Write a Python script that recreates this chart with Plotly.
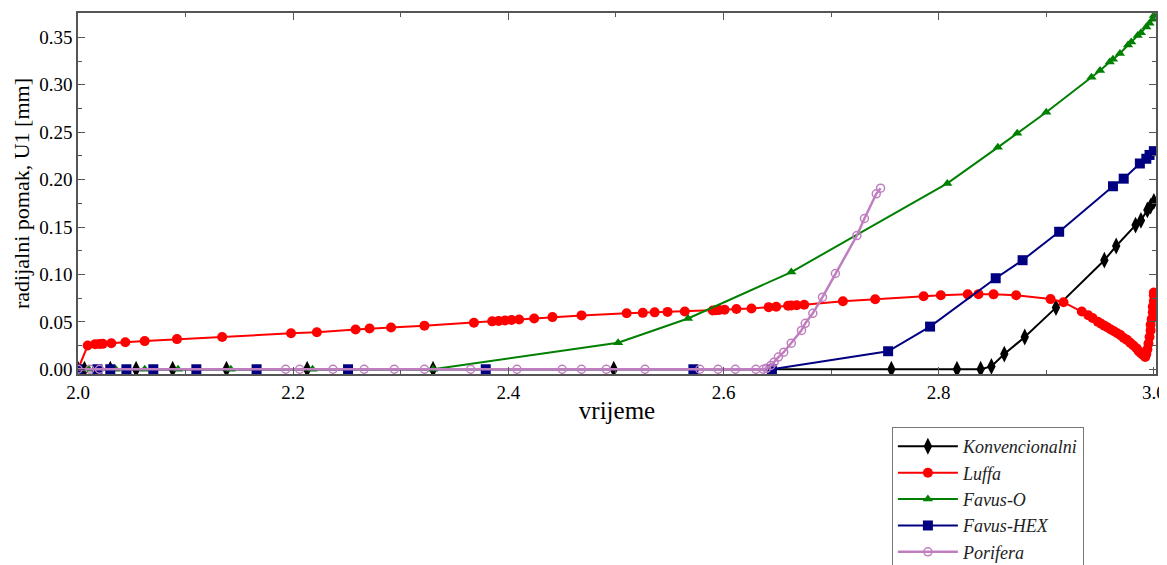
import plotly.graph_objects as go

# ---- data ----
konv_x = [2.0, 2.006, 2.030, 2.054, 2.088, 2.138, 2.213, 2.33, 2.498, 2.756, 2.817, 2.839,
          2.849, 2.861, 2.880, 2.909, 2.954, 2.965, 2.983, 2.988, 2.994, 2.997, 3.0]
konv_y = [0, 0, 0, 0, 0, 0, 0, 0, 0, 0, 0, 0,
          0.003, 0.016, 0.034, 0.065, 0.115, 0.130, 0.152, 0.157, 0.168, 0.172, 0.177]

luffa_x = [2.0, 2.009, 2.016, 2.020, 2.023, 2.031, 2.044, 2.062, 2.092, 2.134, 2.198, 2.222,
           2.258, 2.271, 2.291, 2.322, 2.368, 2.385, 2.391, 2.397, 2.403, 2.410, 2.424, 2.441,
           2.468, 2.510, 2.525, 2.536, 2.548, 2.564, 2.590, 2.593, 2.596, 2.601, 2.612, 2.626,
           2.642, 2.649, 2.660, 2.663, 2.668, 2.675, 2.711, 2.741, 2.786, 2.802, 2.827, 2.837,
           2.851, 2.872, 2.904, 2.916, 2.933, 2.939, 2.943, 2.948, 2.951, 2.954, 2.957, 2.960,
           2.963, 2.966, 2.969, 2.972, 2.975, 2.978, 2.981, 2.984, 2.986, 2.988, 2.990, 2.992,
           2.993, 2.994, 2.995, 2.996, 2.997, 2.997, 2.998, 2.999, 2.999, 3.0, 3.0, 3.0]
luffa_y = [0.0, 0.025, 0.0265, 0.0267, 0.0268, 0.0275, 0.0285, 0.0297, 0.0318, 0.034, 0.038, 0.039,
           0.042, 0.043, 0.044, 0.046, 0.049, 0.0505, 0.051, 0.0515, 0.052, 0.0525, 0.0535, 0.055,
           0.0568, 0.059, 0.0595, 0.060, 0.0605, 0.061, 0.062, 0.0623, 0.0625, 0.0627, 0.0635, 0.064,
           0.0655, 0.066, 0.067, 0.0672, 0.0675, 0.068, 0.0717, 0.0738, 0.077, 0.078, 0.079, 0.0792,
           0.079, 0.078, 0.074, 0.0707, 0.061, 0.057, 0.054, 0.050, 0.048, 0.046, 0.044, 0.042,
           0.040, 0.038, 0.036, 0.033, 0.031, 0.028, 0.025, 0.022, 0.019, 0.017, 0.015, 0.013,
           0.016, 0.021, 0.027, 0.034, 0.041, 0.047, 0.053, 0.060, 0.066, 0.072, 0.078, 0.081]

favo_x = [2.0, 2.010, 2.035, 2.062, 2.093, 2.142, 2.218, 2.330, 2.502, 2.567, 2.663, 2.808,
          2.855, 2.873, 2.900, 2.942, 2.950, 2.959, 2.962, 2.9685, 2.976, 2.979, 2.985, 2.988,
          2.993, 2.996, 2.999, 3.0]
favo_y = [0, 0, 0, 0, 0, 0, 0, 0, 0.028, 0.0535, 0.1025, 0.196,
          0.234, 0.249, 0.271, 0.308, 0.315, 0.324, 0.327, 0.333, 0.342, 0.345, 0.352, 0.355,
          0.361, 0.365, 0.369, 0.373]

hex_x = [2.0, 2.018, 2.030, 2.045, 2.070, 2.110, 2.166, 2.251, 2.379, 2.572, 2.645,
         2.753, 2.792, 2.853, 2.878, 2.912, 2.962, 2.972, 2.987, 2.993, 2.996, 3.0]
hex_y = [0, 0, 0, 0, 0, 0, 0, 0, 0, 0, 0,
         0.019, 0.045, 0.096, 0.115, 0.145, 0.193, 0.201, 0.217, 0.222, 0.226, 0.230]

por_x = [2.0, 2.011, 2.020, 2.193, 2.206, 2.237, 2.266, 2.294, 2.322, 2.365, 2.408, 2.450,
         2.468, 2.491, 2.527, 2.578, 2.595, 2.611, 2.630, 2.637,
         2.640, 2.644, 2.647, 2.651, 2.656, 2.663, 2.6725, 2.676, 2.683, 2.692, 2.704, 2.724,
         2.731, 2.742, 2.746]
por_y = [0, 0, 0, 0, 0, 0, 0, 0, 0, 0, 0, 0,
         0, 0, 0, 0, 0, 0, 0, 0,
         0.001, 0.004, 0.0075, 0.0128, 0.018, 0.0275, 0.041, 0.0485, 0.059, 0.076, 0.101, 0.141,
         0.159, 0.185, 0.191]

names = ["Konvencionalni", "Luffa", "Favus-O", "Favus-HEX", "Porifera"]
x_ticks = [2.0, 2.2, 2.4, 2.6, 2.8, 3.0]
y_ticks = [0.0, 0.05, 0.10, 0.15, 0.20, 0.25, 0.30, 0.35]

FONT = "Liberation Serif"

fig = go.Figure()
fig.add_trace(go.Scatter(x=konv_x, y=konv_y, name=names[0], mode="lines+markers",
                         line=dict(color="black", width=2),
                         marker=dict(symbol="diamond-tall", size=12, color="black")))
fig.add_trace(go.Scatter(x=luffa_x, y=luffa_y, name=names[1], mode="lines+markers",
                         line=dict(color="#ff0000", width=2),
                         marker=dict(symbol="circle", size=10, color="#ff0000")))
fig.add_trace(go.Scatter(x=favo_x, y=favo_y, name=names[2], mode="lines+markers",
                         line=dict(color="#008000", width=2),
                         marker=dict(symbol="triangle-up", size=9, color="#008000")))
fig.add_trace(go.Scatter(x=hex_x, y=hex_y, name=names[3], mode="lines+markers",
                         line=dict(color="#000080", width=2),
                         marker=dict(symbol="square", size=10, color="#000080")))
fig.add_trace(go.Scatter(x=por_x, y=por_y, name=names[4], mode="lines+markers",
                         line=dict(color="#bf7fbf", width=2.5),
                         marker=dict(symbol="circle-open", size=8, color="#bf7fbf",
                                     line=dict(width=1.5))))

axis_common = dict(showgrid=False, zeroline=False, showline=True, linecolor="#555555",
                   linewidth=1.5, mirror="allticks", ticks="inside", ticklen=7,
                   tickcolor="#555555", tickwidth=1,
                   tickfont=dict(family=FONT, size=19, color="black"))

fig.update_xaxes(range=[2.0, 3.002], tickvals=x_ticks, ticktext=[f"{v:.1f}" for v in x_ticks],
                 minor=dict(dtick=0.1, ticks="inside", ticklen=4, tickcolor="#555555"),
                 title=dict(text="vrijeme", font=dict(family=FONT, size=25, color="black"),
                            standoff=0),
                 **axis_common)
fig.update_yaxes(range=[-0.005, 0.3757], tickvals=y_ticks, ticktext=[f"{v:.2f}" for v in y_ticks],
                 minor=dict(dtick=0.025, tick0=0, ticks="inside", ticklen=4, tickcolor="#555555"),
                 title=dict(text="radijalni pomak, U1 [mm]",
                            font=dict(family=FONT, size=22, color="black"), standoff=4),
                 **axis_common)

fig.update_layout(
    width=1159, height=557,
    margin=dict(l=70, r=11, t=5, b=191, autoexpand=False),
    plot_bgcolor="white", paper_bgcolor="white",
    font=dict(family=FONT, color="black"),
    legend=dict(x=0.755, y=-0.147, xanchor="left", yanchor="top", itemwidth=60,
                bordercolor="#777777", borderwidth=1, bgcolor="white",
                font=dict(family=FONT, size=18, style="italic", color="#222222")),
)

fig.write_html("out.html")
